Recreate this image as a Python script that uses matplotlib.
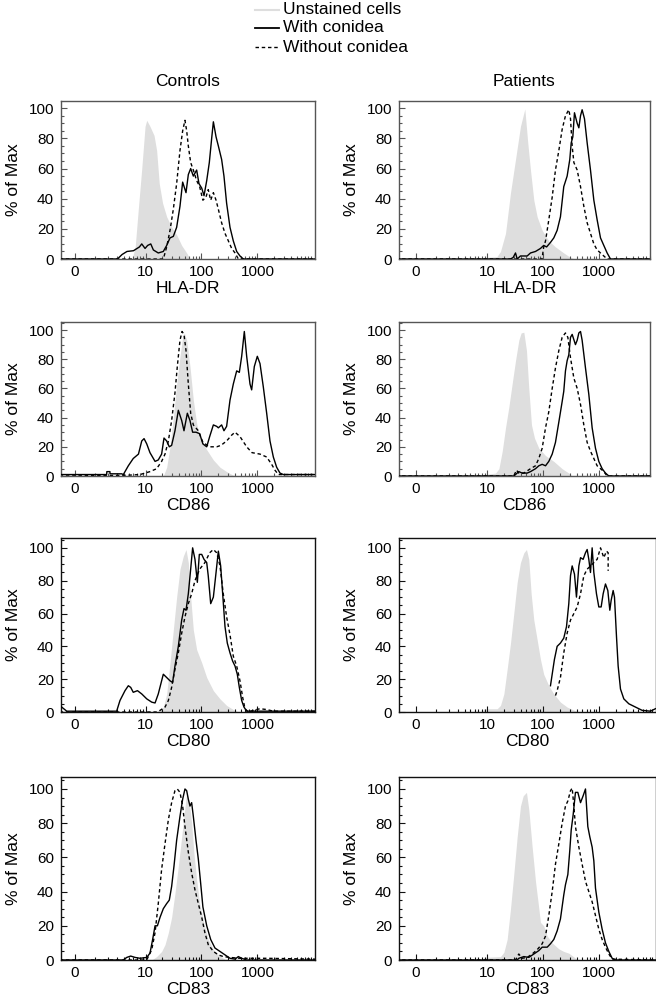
import numpy as np
import matplotlib
matplotlib.use('Agg')
import matplotlib.pyplot as plt
from matplotlib.lines import Line2D
from matplotlib.ticker import FixedLocator, MultipleLocator

plt.rcParams['font.family'] = ['Liberation Sans', 'DejaVu Sans']
plt.rcParams['font.size'] = 11

# (intensity, % of max)
# HLA-DR
hladr_c_unst = [(5.7,0),(6.5,8),(7.4,33),(8.5,59),(9.8,88),(10.5,92),(12.0,88),(14.2,82),(15.8,72),(17.6,50),
                (20.2,37),(23.9,28),(29.4,21),(36.1,16),(44.3,9),(54.4,4),(62.5,0)]
hladr_c_with = [(-0.7,0),(3.06,0),(3.75,3),(4.61,5),(6.06,5.5),(7.76,8),(8.54,10),(9.8,7),(10.9,9),(12.4,10),
                (13.8,6),(16.9,4),(20.8,5),(23.9,9),(27.4,14),(31.4,15),(36.0,21),(41.3,35),(46.1,51),(52.9,44),
                (58.2,56),(64.1,60),(71.5,55),(82.0,59),(90.2,50),(101,47),(111,42),(124,52),(138,64),(152,80),
                (163,91),(182,81),(200,75),(229,66),(252,55),(281,37),(323,21),(370,12),(425,5),(487,2),(559,0),
                (11000,0)]
hladr_c_without = [(-0.7,0),(20.8,0),(23.9,8),(27.4,19),(31.4,33),(36.0,50),(41.3,72),(46.1,85),(50.7,92),
                   (54.4,85),(58.2,75),(64.1,64),(71.5,59),(82.0,52),(92.7,48),(106,39),(120,41),(132,46),
                   (146,39),(163,44),(182,39),(200,33),(229,24),(263,17),(302,12),(346,7),(397,4),(455,0),
                   (11000,0)]
hladr_p_unst = [(7.6,0),(9,1),(15,1.5),(17.4,5),(21.4,17),(26.3,44),(32.3,66),(39.6,88),(47.4,99.5),(53.5,77),
                (59.8,59),(68.6,39),(78.7,28),(96.7,19),(127,12),(167,8),(235,4),(310,1),(380,0)]
hladr_p_with = [(-1,0),(26.3,0),(29.3,1),(32.3,4),(34.6,0),(39.6,2),(52.2,2),(59.8,4),(73.5,5),(90.2,7),
                (103,9),(116,8),(136,11),(156,14),(179,19),(205,28),(235,48),(270,55),(301,66),(319,77),
                (341,81),(365,97),(408,90),(437,87),(468,95),(500,99),(551,93),(615,77),(705,59),(809,39),
                (927,26),(1064,14),(1219,9),(1399,4),(1604,0),(11000,0)]
hladr_p_without = [(-1,0),(96,0),(103,8),(111,12),(127,26),(146,41),(167,59),(192,72),(220,86),(252,95),
                   (289,99),(310,93),(332,75),(356,64),(408,59),(468,48),(536,35),(615,24),(705,17),(809,10),
                   (927,6),(1064,4),(1219,2),(1399,0),(11000,0)]

# CD86
cd86_c_unst = [(20.8,0),(23.9,6),(27.4,20),(31.4,40),(36.0,63),(41.3,82),(46.1,95),(49.4,98),(54.4,93),
               (62.3,75),(71.5,52),(82.0,36),(92.7,27),(124,18),(163,11),(214,6),(281,3),(370,0.5),(420,0)]
cd86_c_with = [(-0.7,1),(1.88,1),(1.9,3),(2.19,3),(2.2,1.5),(3.68,1.5),(3.95,1),(4.88,7),(6.0,12),(7.45,15),
               (8.54,24),(9.4,25.6),(10.5,22),(12.0,16),(14.8,10),(16.9,11),(19.4,15),(21.4,26),(23.9,24),
               (26.6,20),(29.3,21),(33.6,31),(38.6,45),(44.3,38),(48.7,31),(55.9,43),(62.3,38),(69.5,30),
               (79.8,30),(92.7,29),(106,22),(124,20),(140,27),(163,35),(187,34),(200,33),(229,35),(252,31),
               (281,34),(323,52),(370,63),(425,72),(474,71),(522,82),(582,99),(641,82),(735,63),(787,59),
               (878,75),(993,82),(1109,77),(1271,61),(1459,43),(1672,24),(1919,13),(2199,6),(2522,2),
               (2893,1),(11000,1)]
cd86_c_without = [(-0.7,0),(4.56,0.5),(7.95,1),(12.0,3),(15.8,5),(19.4,10),(22.3,15),(25.6,24),(29.3,38),
                  (33.6,57),(37.0,75),(41.3,93),(44.9,99),(48.7,97),(52.9,86),(58.2,63),(64.1,43),(71.5,35),
                  (87.8,31),(106,23),(140,20),(187,20),(223,21),(281,24),(346,28),(397,30),(487,27),(641,20),
                  (798,16),(1109,15),(1459,13),(1790,8),(2052,4),(2354,1),(11000,1)]
cd86_p_unst = [(7.6,0),(9,1),(14.2,2),(16.3,5),(18.7,17),(21.4,33),(24.5,47),(28.1,63),(32.3,79),(37.0,93),
               (40.7,98),(45.5,98.5),(50.7,86),(55.8,60),(62.3,35),(70.5,26),(84.3,19),(111,14),(156,10),
               (220,5),(289,2),(332,0)]
cd86_p_with = [(-1,0),(30.1,0),(32.3,1),(37.0,3),(42.5,2),(52.2,2),(59.8,3),(73.5,5),(84.3,7),(96.7,8),
               (111,7),(127,10),(146,15),(167,23),(192,37),(220,51),(235,58),(252,72),(270,79),(289,83),
               (310,95),(332,97),(380,90),(408,93),(437,98),(468,99),(500,93),(574,74),(658,56),(755,33),
               (866,19),(993,10),(1139,5),(1306,2),(1499,0),(11000,0)]
cd86_p_without = [(-1,0),(30.1,0),(33.6,4),(37.0,2),(45.5,2),(59.8,5),(73.5,7),(84.3,12),(96.7,19),(111,33),
                  (127,44),(146,60),(167,74),(192,86),(220,95),(252,98),(278,95),(310,81),(356,67),(408,60),
                  (468,49),(536,35),(615,23),(705,17),(809,12),(927,7),(1064,5),(1219,3),(1399,0),(11000,0)]

# CD80
cd80_c_unst = [(15.8,0),(20.8,3),(23.9,11),(27.4,30),(31.4,50),(36.0,70),(41.3,87),(47.4,95),(52.9,99),
               (58.2,91),(64.1,70),(71.5,50),(82.0,38),(101,30),(124,21),(163,13),(214,8),(281,4),(370,1.5),
               (455,0)]
cd80_c_with = [(-0.7,4),(-0.35,0.5),(2.96,0.5),(3.42,7),(4.24,13),(4.88,16),(5.39,15),(6.0,12),(7.15,13),
               (8.54,11),(10.5,8),(12.9,6),(14.8,5.5),(16.9,11),(19.4,19),(20.8,23),(23.9,21),(27.4,19),
               (30.5,18),(33.6,28),(38.6,40),(44.3,56),(48.7,63),(52.9,62),(58.2,72),(64.1,87),(69.5,100),
               (76.5,93),(84.3,79),(91.5,96),(101,96),(111,93),(124,91),(132,83),(146,66),(163,70),(182,85),
               (200,98),(220,89),(239,72),(263,52),(289,42),(323,36),(360,31),(397,28),(436,23),(474,15),
               (522,7),(574,3),(641,0.5),(11000,0.5)]
cd80_c_without = [(-0.7,0),(15.8,0),(18.2,1),(22.3,3),(25.6,7),(29.3,15),(33.6,26),(38.6,36),(44.3,48),
                  (50.7,58),(58.2,66),(66.7,72),(76.5,80),(92.7,87),(115,91),(140,97),(163,99),(187,97),
                  (214,89),(245,72),(281,58),(323,47),(370,34),(425,28),(487,19),(543,9),(598,2),(686,0),
                  (843,1),(1109,2),(1459,1.5),(1919,0.5),(11000,0.5)]
cd80_p_unst = [(8.2,0),(8.8,2),(15.2,2),(17.4,4),(20.0,11),(22.9,26),(26.3,42),(30.1,60),(34.6,79),(39.6,91),
               (45.5,97),(50.7,99),(55.8,93),(61.5,72),(68.6,56),(78.7,44),(90.2,32),(103,23),(127,16),
               (156,11),(205,6),(270,3),(365,1),(419,0)]
cd80_p_with = [(136,16),(146,23),(160,32),(179,40),(205,42),(235,45),(263,52),(289,66),(310,83),(332,89),
               (365,84),(396,70),(437,89),(468,94),(521,93),(574,97),(615,99),(658,93),(705,85),(755,100),
               (809,85),(902,72),(993,64),(1093,64),(1187,72),(1306,78),(1438,74),(1561,62),(1649,68),
               (1790,74),(1891,70),(2054,46),(2199,28),(2420,14),(2775,8),(3412,5),(4484,3),(5900,1),
               (8310,0.5),(10200,2)]
cd80_p_without = [(167,10),(179,13),(205,21),(235,36),(270,48),(310,56),(356,60),(408,64),(468,72),(536,83),
                  (615,87),(705,89),(809,91),(927,93),(1064,100),(1139,97),(1219,94),(1361,98),(1458,97),
                  (1458,86)]

# CD83
cd83_c_unst = [(12.9,0),(15.8,2),(19.4,5),(22.3,9),(25.6,16),(29.3,25),(33.6,39),(38.6,55),(44.3,72),
               (49.4,86),(54.4,98),(60.6,92),(66.7,80),(73.5,62),(82.0,47),(92.7,33),(111,21),(132,12),
               (163,6),(200,3),(245,1),(281,0)]
cd83_c_with = [(-0.7,0),(3.95,0),(4.56,1.5),(5.39,2.3),(6.49,1.5),(7.95,1),(10.5,1.5),(12.0,4),(13.4,12),
               (14.8,20),(16.3,20),(18.2,25),(20.8,30),(23.9,33),(26.6,35),(29.3,43),(32.3,55),(36.0,70),
               (41.3,84),(46.1,94),(50.7,100),(54.4,99),(58.2,94),(62.3,90),(66.7,92),(71.5,84),(79.8,70),
               (87.8,59),(96.6,45),(106,31),(124,20),(146,12),(174,7),(214,5),(263,3),(323,1),(397,0.5),
               (455,2),(522,1),(641,0),(11000,0)]
cd83_c_without = [(-0.7,0),(10.5,0),(11.2,2),(12.9,6),(14.8,16),(16.9,33),(19.4,53),(22.3,68),(25.6,82),
                  (29.3,92),(33.6,99),(37.0,100),(41.3,98),(46.1,90),(50.7,78),(58.2,63),(66.7,51),(76.5,41),
                  (87.8,33),(101,25),(115,16),(132,9),(163,5),(200,3),(245,2),(323,1.5),(487,1),(843,1),
                  (1459,1),(11000,0.5)]
cd83_p_unst = [(8.2,0),(9,1.5),(17.4,2),(20.0,4.5),(22.9,12),(26.3,30),(30.1,50),(34.6,72),(39.6,90),
               (44.3,96),(50.7,98),(55.8,88),(64.1,66),(73.5,46),(84.3,30),(90.2,22),(103,20),(119,14),
               (146,10),(192,6.5),(235,5),(289,4),(365,1.5),(419,0)]
cd83_p_with = [(-1,0),(34.6,0),(37.0,1),(45.5,2),(55.8,1.5),(68.6,3.5),(84.3,5.5),(96.7,7.5),(119,7.5),
               (136,9.5),(156,12),(179,17),(205,24),(235,38),(252,44),(278,50),(301,64),(319,76),(346,85),
               (380,98),(419,98),(468,92),(521,96),(574,100),(632,78),(686,72),(755,66),(809,58),(866,42),
               (993,28),(1139,18),(1306,10),(1499,5),(1718,1),(1972,0),(11000,0)]
cd83_p_without = [(-1,0),(32.3,0),(37.0,3.5),(42.5,1),(52.2,1.5),(64.1,3.5),(78.7,6),(96.7,9.5),(111,14),
                  (127,26),(146,40),(167,56),(192,68),(220,80),(252,90),(278,93),(310,99),(332,100.5),
                  (356,90),(380,78),(437,66),(500,56),(574,46),(658,40),(755,34),(866,26),(993,18),(1139,12),
                  (1306,7.5),(1499,3.5),(1718,0.5),(11000,0)]

markers = ['HLA-DR', 'CD86', 'CD80', 'CD83']
groups = ['Controls', 'Patients']
series = ['Unstained cells', 'With conidea', 'Without conidea']
panels = [
    [(hladr_c_unst, hladr_c_with, hladr_c_without), (hladr_p_unst, hladr_p_with, hladr_p_without)],
    [(cd86_c_unst, cd86_c_with, cd86_c_without), (cd86_p_unst, cd86_p_with, cd86_p_without)],
    [(cd80_c_unst, cd80_c_with, cd80_c_without), (cd80_p_unst, cd80_p_with, cd80_p_without)],
    [(cd83_c_unst, cd83_c_with, cd83_c_without), (cd83_p_unst, cd83_p_with, cd83_p_without)],
]
x_ticks = [0, 10, 100, 1000]
x_minor = list(range(1, 10)) + list(range(20, 100, 10)) + list(range(200, 1000, 100)) + list(range(2000, 10000, 1000))
y_ticks = [0, 20, 40, 60, 80, 100]

# biexponential-like display axis (asinh)
def fwd(x):
    return np.arcsinh(np.asarray(x, float) / 1.08) / np.log(10)

def inv(u):
    return 1.08 * np.sinh(np.asarray(u, float) * np.log(10))

W, H = 656, 1002
GRAY = '#dedede'
DASH = (0, (2.5, 2))
LABEL_FS = 12.5

def box(l, r, t, b):
    return [l / W, 1 - b / H, (r - l) / W, (b - t) / H]

row_tb = [(101, 259), (322, 476), (538, 712), (777, 960)]
row_ytop = [104.8, 105.5, 106, 107]
row_edge = ['#555555', '#555555', '#111111', '#111111']
col_left = [(61, 74.5), (399, 416)]   # axes left px, px of zero
col_right = [[315, 650], [315, 650], [315, 656], [315, 656]]
decade_px = 56.0

fig = plt.figure(figsize=(W / 100, H / 100), dpi=100)

for i, marker in enumerate(markers):
    t, b = row_tb[i]
    for j in range(2):
        l, zero = col_left[j]
        r = col_right[i][j]
        ax = fig.add_axes(box(l, r, t, b))
        ax.set_xscale('function', functions=(fwd, inv))
        unst, with_c, without_c = panels[i][j]
        ux, uy = zip(*unst)
        ax.fill_between(ux, uy, 0, color=GRAY, lw=0, zorder=1)
        wx, wy = zip(*with_c)
        ax.plot(wx, wy, color='black', lw=1.0, zorder=3)
        ox, oy = zip(*without_c)
        ax.plot(ox, oy, color='black', lw=1.0, ls=DASH, zorder=2)

        ax.set_xlim(inv((l - zero) / decade_px), inv((r - zero) / decade_px))
        ax.set_ylim(0, row_ytop[i])
        ax.xaxis.set_major_locator(FixedLocator(x_ticks))
        ax.set_xticklabels([str(v) for v in x_ticks])
        ax.xaxis.set_minor_locator(FixedLocator(x_minor))
        ax.set_yticks(y_ticks)
        ax.yaxis.set_minor_locator(MultipleLocator(5))
        ax.tick_params(which='both', direction='in', top=False, right=False, color=row_edge[i])
        ax.tick_params(which='major', length=4, width=0.8)
        ax.tick_params(which='minor', length=2.2, width=0.8)
        ax.tick_params(axis='x', pad=4)
        ax.tick_params(axis='y', pad=5)
        for s in ax.spines.values():
            s.set_color(row_edge[i])
            s.set_linewidth(1.0)
        ax.set_xlabel(marker, fontsize=LABEL_FS)
        ax.xaxis.set_label_coords(0.5, -22 / (b - t))
        ax.set_ylabel('% of Max', fontsize=LABEL_FS)
        ax.yaxis.set_label_coords(-40 / (r - l), 0.5)
        if i == 0:
            fig.text((l + r) / 2 / W, 1 - 82 / H, groups[j], ha='center', va='center', fontsize=LABEL_FS)

# legend drawn at the top centre
leg_y = [10, 28, 47]
leg_style = [dict(color=GRAY, lw=1.5, ls='-'), dict(color='black', lw=1.3, ls='-'),
             dict(color='black', lw=1.0, ls=DASH)]
for name, yy, st in zip(series, leg_y, leg_style):
    fig.add_artist(Line2D([255 / W, 279 / W], [1 - yy / H, 1 - yy / H], transform=fig.transFigure, **st))
    fig.text(283 / W, 1 - yy / H, name, ha='left', va='center', fontsize=LABEL_FS)

fig.savefig('out.png', dpi=100)
